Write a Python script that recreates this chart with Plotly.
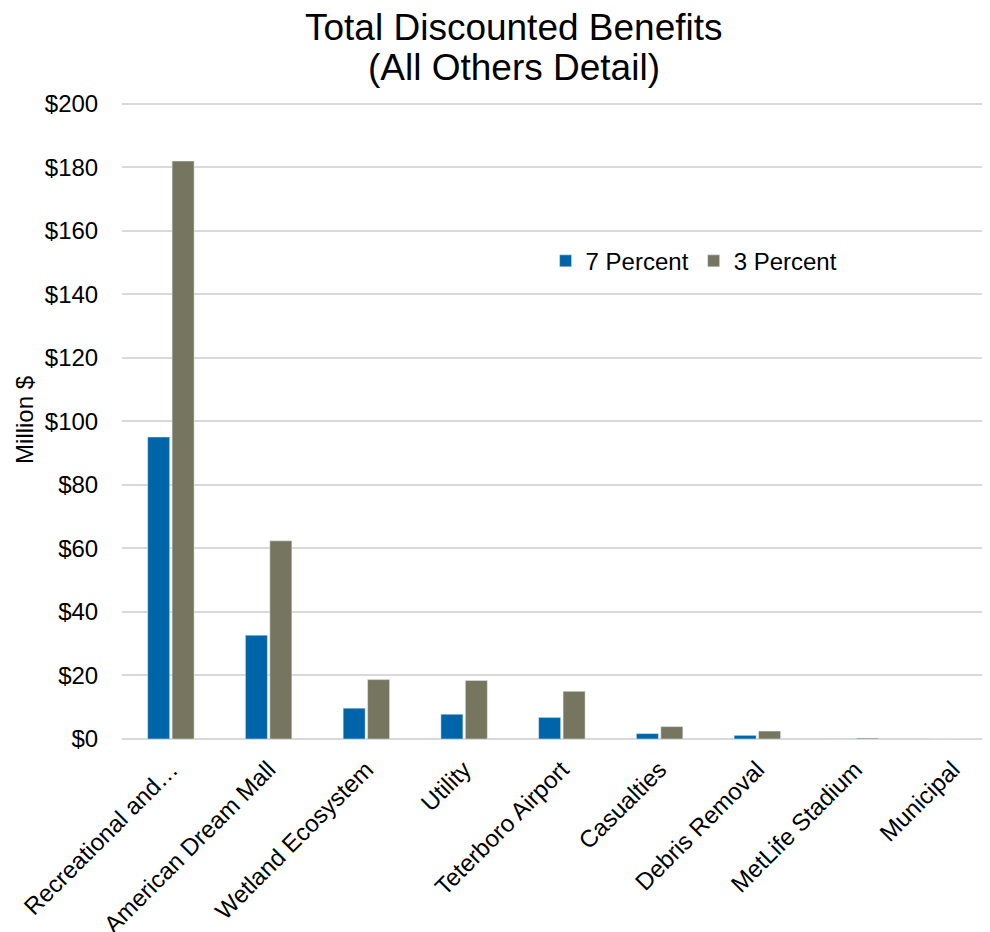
import plotly.graph_objects as go

categories = ["Recreational and…", "American Dream Mall", "Wetland Ecosystem", "Utility",
              "Teterboro Airport", "Casualties", "Debris Removal", "MetLife Stadium", "Municipal"]
seven_pct = [95.1, 32.7, 9.7, 7.8, 6.8, 1.7, 1.15, 0.05, 0.0]
three_pct = [182.0, 62.4, 18.7, 18.4, 15.0, 3.9, 2.5, 0.3, 0.02]
y_ticks = [0, 20, 40, 60, 80, 100, 120, 140, 160, 180, 200]
y_tick_labels = ["$" + str(v) for v in y_ticks]

FONT = "Liberation Sans, Arial, sans-serif"

fig = go.Figure()
fig.add_trace(go.Bar(name="7 Percent", x=categories, y=seven_pct, marker_color="#0064A8"))
fig.add_trace(go.Bar(name="3 Percent", x=categories, y=three_pct, marker_color="#76755F"))

# page body has an 8px margin; figure is sized so it fills the 990x932 window
fig.update_layout(
    width=982, height=924,
    margin=dict(l=114, r=0, t=94, b=193, autoexpand=False),
    paper_bgcolor="white", plot_bgcolor="white",
    barmode="group", bargap=0.5, bargroupgap=0.1,
    font=dict(family=FONT, size=24, color="black"),
    legend=dict(orientation="h", x=0.488, xanchor="left", y=0.75, yanchor="middle",
                font=dict(family=FONT, size=24), bgcolor="rgba(0,0,0,0)",
                itemwidth=30, tracegroupgap=0),
    xaxis=dict(range=[-0.5, 8.38], tickangle=-45, showgrid=False, showline=False,
               ticks="outside", ticklen=6, tickcolor="rgba(0,0,0,0)",
               tickfont=dict(family=FONT, size=24)),
    yaxis=dict(range=[0, 200.6], tickvals=y_ticks, ticktext=y_tick_labels,
               showgrid=True, gridcolor="#d9d9d9", gridwidth=1.5,
               zeroline=True, zerolinecolor="#d9d9d9", zerolinewidth=2,
               showline=False, ticks="outside", ticklen=18, tickcolor="rgba(0,0,0,0)",
               tickfont=dict(family=FONT, size=24)),
    annotations=[
        dict(text="Total Discounted Benefits", xref="paper", yref="paper",
             x=0.4516, y=1.1177, xanchor="center", yanchor="middle", showarrow=False,
             font=dict(family=FONT, size=37, color="black")),
        dict(text="(All Others Detail)", xref="paper", yref="paper",
             x=0.4516, y=1.0534, xanchor="center", yanchor="middle", showarrow=False,
             font=dict(family=FONT, size=37, color="black")),
        dict(text="Million $", xref="paper", yref="paper", textangle=-90,
             x=-0.1118, y=0.5008, xanchor="center", yanchor="middle", showarrow=False,
             font=dict(family=FONT, size=24, color="black")),
    ],
)

fig.write_html("out.html")
